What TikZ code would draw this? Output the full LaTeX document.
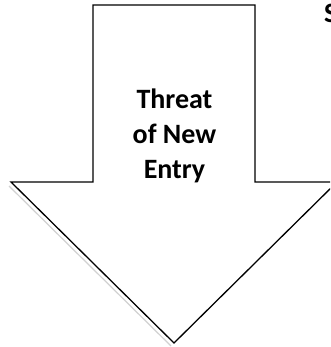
\documentclass[tikz,border=0pt]{standalone}
\usepackage{fontspec}
\setmainfont{Carlito}
\begin{document}
\begin{tikzpicture}[x=1pt,y=-1pt,
  arrowshape/.style={draw=black,line width=1.3pt,fill=white,line join=miter},
  shadowline/.style={draw=black!18,line width=1.2pt},
  labeltext/.style={font=\bfseries\fontsize{28}{35}\selectfont,align=center,inner sep=0pt}]
\useasboundingbox (0,0) rectangle (330,347);
\clip (0,0) rectangle (330,347);
\coordinate (sl) at (9,186);
\coordinate (st) at (171,346);
\draw[shadowline] (sl) -- (st);
\draw[arrowshape] (93,5) -- (255,5) -- (255,182) -- (337,182) -- (174,343) -- (11,182) -- (93,182) -- cycle;
\node[labeltext] (lbl) at (174.5,136) {Threat\\of New\\Entry};
\node[labeltext,anchor=base west] (s) at (324,23) {S};
\end{tikzpicture}
\end{document}
